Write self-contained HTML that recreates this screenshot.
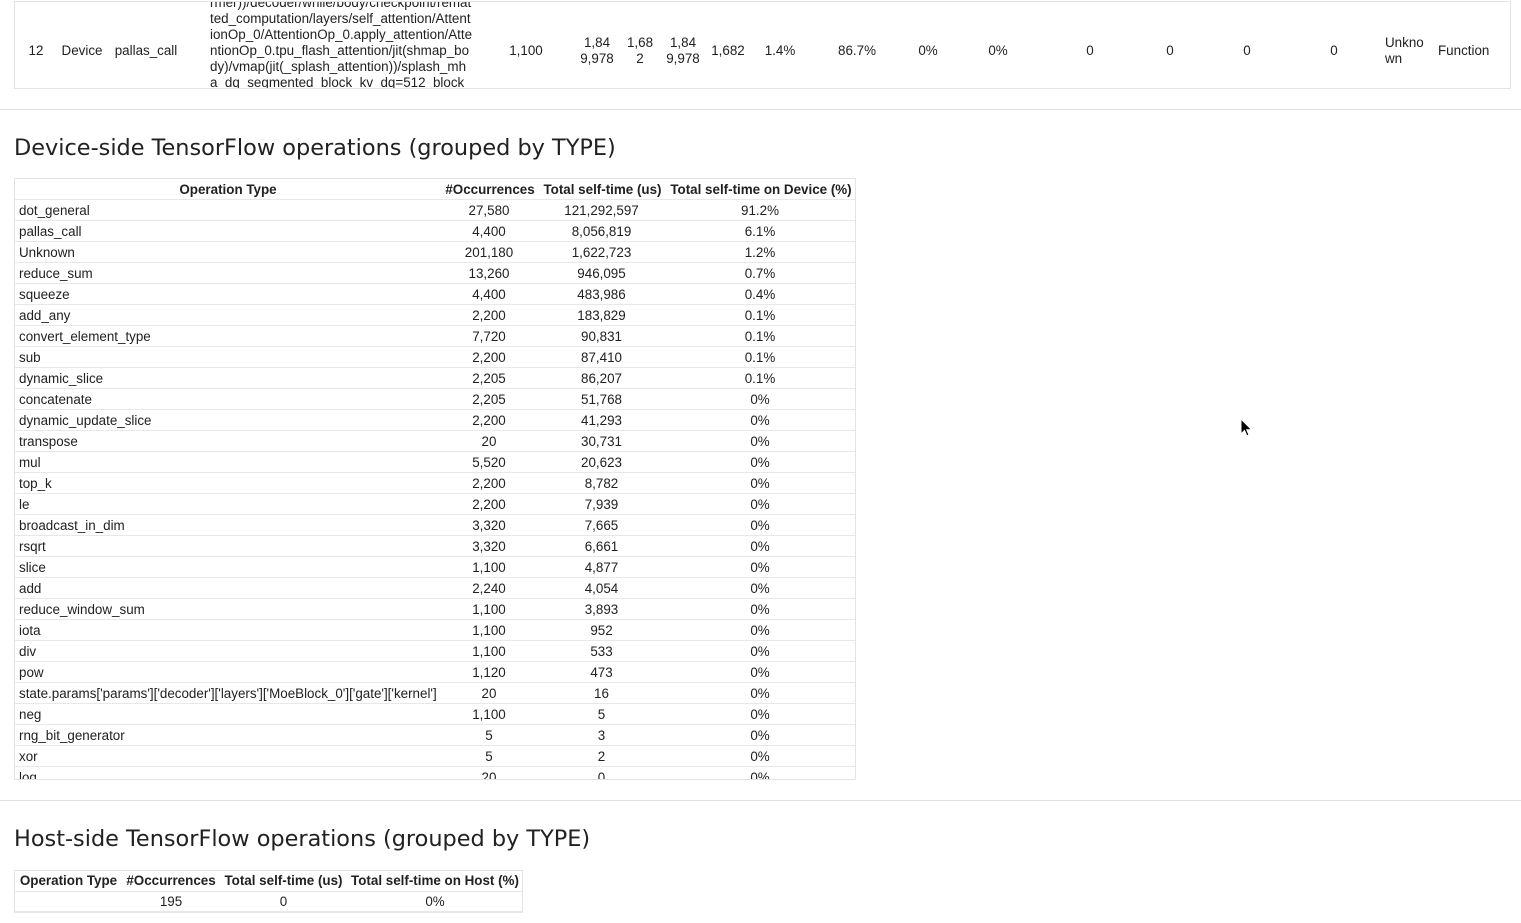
<!DOCTYPE html>
<html>
<head>
<meta charset="utf-8">
<style>
html,body{margin:0;padding:0;background:#fff;}
body{width:1521px;height:923px;position:relative;overflow:hidden;font-family:"Liberation Sans",Arial,sans-serif;font-size:13.4px;color:#212121;}
.abs{position:absolute;}
.c{position:absolute;text-align:center;white-space:nowrap;}
.box{position:absolute;border:1px solid #e3e3e3;box-sizing:border-box;overflow:hidden;background:#fff;}
.sep{position:absolute;left:0;width:1521px;height:1px;background:#e0e0e0;}
h2{position:absolute;margin:0;font-family:"DejaVu Sans",sans-serif;font-weight:normal;font-size:22.4px;color:#212121;white-space:nowrap;line-height:30px;}
.row{position:absolute;left:0;height:20px;line-height:20px;border-bottom:1px solid #e8e8e8;width:100%;}
.row div{position:absolute;top:0;white-space:nowrap;}
.dev .row div{top:1px;}
.hd{font-weight:bold;}
.long{position:absolute;left:195px;top:0;width:275px;height:86px;overflow:hidden;}
.long div{position:absolute;left:0;white-space:nowrap;line-height:16px;}
</style>
</head>
<body>

<!-- Top table row -->
<div class="box" style="left:14px;top:1px;width:1497px;height:88px;">
  <div class="c" style="left:1px;width:40px;top:41px;line-height:16px;">12</div>
  <div class="c" style="left:37px;width:60px;top:41px;line-height:16px;">Device</div>
  <div class="c" style="left:91px;width:80px;top:41px;line-height:16px;">pallas_call</div>
  <div class="long">
    <div style="top:-7px;">rmer))/decoder/while/body/checkpoint/remat</div>
    <div style="top:9px;">ted_computation/layers/self_attention/Attent</div>
    <div style="top:25px;">ionOp_0/AttentionOp_0.apply_attention/Atte</div>
    <div style="top:41px;">ntionOp_0.tpu_flash_attention/jit(shmap_bo</div>
    <div style="top:57px;">dy)/vmap(jit(_splash_attention))/splash_mh</div>
    <div style="top:73px;">a_dq_segmented_block_kv_dq=512_block</div>
  </div>
  <div class="c" style="left:471px;width:80px;top:41px;line-height:16px;">1,100</div>
  <div class="c" style="left:552px;width:60px;top:33px;line-height:16px;">1,84<br>9,978</div>
  <div class="c" style="left:605px;width:40px;top:33px;line-height:16px;">1,68<br>2</div>
  <div class="c" style="left:638px;width:60px;top:33px;line-height:16px;">1,84<br>9,978</div>
  <div class="c" style="left:683px;width:60px;top:41px;line-height:16px;">1,682</div>
  <div class="c" style="left:735px;width:60px;top:41px;line-height:16px;">1.4%</div>
  <div class="c" style="left:812px;width:60px;top:41px;line-height:16px;">86.7%</div>
  <div class="c" style="left:883px;width:60px;top:41px;line-height:16px;">0%</div>
  <div class="c" style="left:953px;width:60px;top:41px;line-height:16px;">0%</div>
  <div class="c" style="left:1045px;width:60px;top:41px;line-height:16px;">0</div>
  <div class="c" style="left:1125px;width:60px;top:41px;line-height:16px;">0</div>
  <div class="c" style="left:1202px;width:60px;top:41px;line-height:16px;">0</div>
  <div class="c" style="left:1289px;width:60px;top:41px;line-height:16px;">0</div>
  <div class="abs" style="left:1370px;top:33px;line-height:16px;white-space:nowrap;">Unkno<br>wn</div>
  <div class="abs" style="left:1423px;top:41px;line-height:16px;white-space:nowrap;">Function</div>
</div>

<div class="sep" style="top:109px;"></div>

<h2 style="left:14px;top:133px;">Device-side TensorFlow operations (grouped by TYPE)</h2>

<!-- Device table -->
<div class="box dev" style="left:14px;top:178px;width:842px;height:602px;">
  <div class="row hd" style="top:0;">
    <div style="left:0;width:426px;text-align:center;">Operation Type</div>
    <div style="left:426px;width:98px;text-align:center;">#Occurrences</div>
    <div style="left:524px;width:127px;text-align:center;">Total self-time (us)</div>
    <div style="left:651px;width:190px;text-align:center;">Total self-time on Device (%)</div>
  </div>
</div>

<div class="sep" style="top:800px;"></div>

<h2 style="left:14px;top:824px;">Host-side TensorFlow operations (grouped by TYPE)</h2>

<!-- Host table -->
<div class="box" style="left:14px;top:870px;width:509px;height:43px;border-bottom:2px solid #e8e8e8;">
  <div class="row hd" style="top:0;">
    <div style="left:0;width:107px;text-align:center;">Operation Type</div>
    <div style="left:107px;width:98px;text-align:center;">#Occurrences</div>
    <div style="left:205px;width:127px;text-align:center;">Total self-time (us)</div>
    <div style="left:332px;width:176px;text-align:center;">Total self-time on Host (%)</div>
  </div>
  <div class="row" style="top:21px;border-bottom:none;">
    <div style="left:107px;width:98px;text-align:center;">195</div>
    <div style="left:205px;width:127px;text-align:center;">0</div>
    <div style="left:332px;width:176px;text-align:center;">0%</div>
  </div>
</div>

<!-- Device rows -->
<div class="abs dev" style="left:15px;top:179px;width:840px;height:600px;overflow:hidden;">
  <div class="row" style="top:21px;"><div style="left:4px;">dot_general</div><div style="left:425px;width:98px;text-align:center;">27,580</div><div style="left:523px;width:127px;text-align:center;">121,292,597</div><div style="left:650px;width:190px;text-align:center;">91.2%</div></div>
  <div class="row" style="top:42px;"><div style="left:4px;">pallas_call</div><div style="left:425px;width:98px;text-align:center;">4,400</div><div style="left:523px;width:127px;text-align:center;">8,056,819</div><div style="left:650px;width:190px;text-align:center;">6.1%</div></div>
  <div class="row" style="top:63px;"><div style="left:4px;">Unknown</div><div style="left:425px;width:98px;text-align:center;">201,180</div><div style="left:523px;width:127px;text-align:center;">1,622,723</div><div style="left:650px;width:190px;text-align:center;">1.2%</div></div>
  <div class="row" style="top:84px;"><div style="left:4px;">reduce_sum</div><div style="left:425px;width:98px;text-align:center;">13,260</div><div style="left:523px;width:127px;text-align:center;">946,095</div><div style="left:650px;width:190px;text-align:center;">0.7%</div></div>
  <div class="row" style="top:105px;"><div style="left:4px;">squeeze</div><div style="left:425px;width:98px;text-align:center;">4,400</div><div style="left:523px;width:127px;text-align:center;">483,986</div><div style="left:650px;width:190px;text-align:center;">0.4%</div></div>
  <div class="row" style="top:126px;"><div style="left:4px;">add_any</div><div style="left:425px;width:98px;text-align:center;">2,200</div><div style="left:523px;width:127px;text-align:center;">183,829</div><div style="left:650px;width:190px;text-align:center;">0.1%</div></div>
  <div class="row" style="top:147px;"><div style="left:4px;">convert_element_type</div><div style="left:425px;width:98px;text-align:center;">7,720</div><div style="left:523px;width:127px;text-align:center;">90,831</div><div style="left:650px;width:190px;text-align:center;">0.1%</div></div>
  <div class="row" style="top:168px;"><div style="left:4px;">sub</div><div style="left:425px;width:98px;text-align:center;">2,200</div><div style="left:523px;width:127px;text-align:center;">87,410</div><div style="left:650px;width:190px;text-align:center;">0.1%</div></div>
  <div class="row" style="top:189px;"><div style="left:4px;">dynamic_slice</div><div style="left:425px;width:98px;text-align:center;">2,205</div><div style="left:523px;width:127px;text-align:center;">86,207</div><div style="left:650px;width:190px;text-align:center;">0.1%</div></div>
  <div class="row" style="top:210px;"><div style="left:4px;">concatenate</div><div style="left:425px;width:98px;text-align:center;">2,205</div><div style="left:523px;width:127px;text-align:center;">51,768</div><div style="left:650px;width:190px;text-align:center;">0%</div></div>
  <div class="row" style="top:231px;"><div style="left:4px;">dynamic_update_slice</div><div style="left:425px;width:98px;text-align:center;">2,200</div><div style="left:523px;width:127px;text-align:center;">41,293</div><div style="left:650px;width:190px;text-align:center;">0%</div></div>
  <div class="row" style="top:252px;"><div style="left:4px;">transpose</div><div style="left:425px;width:98px;text-align:center;">20</div><div style="left:523px;width:127px;text-align:center;">30,731</div><div style="left:650px;width:190px;text-align:center;">0%</div></div>
  <div class="row" style="top:273px;"><div style="left:4px;">mul</div><div style="left:425px;width:98px;text-align:center;">5,520</div><div style="left:523px;width:127px;text-align:center;">20,623</div><div style="left:650px;width:190px;text-align:center;">0%</div></div>
  <div class="row" style="top:294px;"><div style="left:4px;">top_k</div><div style="left:425px;width:98px;text-align:center;">2,200</div><div style="left:523px;width:127px;text-align:center;">8,782</div><div style="left:650px;width:190px;text-align:center;">0%</div></div>
  <div class="row" style="top:315px;"><div style="left:4px;">le</div><div style="left:425px;width:98px;text-align:center;">2,200</div><div style="left:523px;width:127px;text-align:center;">7,939</div><div style="left:650px;width:190px;text-align:center;">0%</div></div>
  <div class="row" style="top:336px;"><div style="left:4px;">broadcast_in_dim</div><div style="left:425px;width:98px;text-align:center;">3,320</div><div style="left:523px;width:127px;text-align:center;">7,665</div><div style="left:650px;width:190px;text-align:center;">0%</div></div>
  <div class="row" style="top:357px;"><div style="left:4px;">rsqrt</div><div style="left:425px;width:98px;text-align:center;">3,320</div><div style="left:523px;width:127px;text-align:center;">6,661</div><div style="left:650px;width:190px;text-align:center;">0%</div></div>
  <div class="row" style="top:378px;"><div style="left:4px;">slice</div><div style="left:425px;width:98px;text-align:center;">1,100</div><div style="left:523px;width:127px;text-align:center;">4,877</div><div style="left:650px;width:190px;text-align:center;">0%</div></div>
  <div class="row" style="top:399px;"><div style="left:4px;">add</div><div style="left:425px;width:98px;text-align:center;">2,240</div><div style="left:523px;width:127px;text-align:center;">4,054</div><div style="left:650px;width:190px;text-align:center;">0%</div></div>
  <div class="row" style="top:420px;"><div style="left:4px;">reduce_window_sum</div><div style="left:425px;width:98px;text-align:center;">1,100</div><div style="left:523px;width:127px;text-align:center;">3,893</div><div style="left:650px;width:190px;text-align:center;">0%</div></div>
  <div class="row" style="top:441px;"><div style="left:4px;">iota</div><div style="left:425px;width:98px;text-align:center;">1,100</div><div style="left:523px;width:127px;text-align:center;">952</div><div style="left:650px;width:190px;text-align:center;">0%</div></div>
  <div class="row" style="top:462px;"><div style="left:4px;">div</div><div style="left:425px;width:98px;text-align:center;">1,100</div><div style="left:523px;width:127px;text-align:center;">533</div><div style="left:650px;width:190px;text-align:center;">0%</div></div>
  <div class="row" style="top:483px;"><div style="left:4px;">pow</div><div style="left:425px;width:98px;text-align:center;">1,120</div><div style="left:523px;width:127px;text-align:center;">473</div><div style="left:650px;width:190px;text-align:center;">0%</div></div>
  <div class="row" style="top:504px;"><div style="left:4px;">state.params['params']['decoder']['layers']['MoeBlock_0']['gate']['kernel']</div><div style="left:425px;width:98px;text-align:center;">20</div><div style="left:523px;width:127px;text-align:center;">16</div><div style="left:650px;width:190px;text-align:center;">0%</div></div>
  <div class="row" style="top:525px;"><div style="left:4px;">neg</div><div style="left:425px;width:98px;text-align:center;">1,100</div><div style="left:523px;width:127px;text-align:center;">5</div><div style="left:650px;width:190px;text-align:center;">0%</div></div>
  <div class="row" style="top:546px;"><div style="left:4px;">rng_bit_generator</div><div style="left:425px;width:98px;text-align:center;">5</div><div style="left:523px;width:127px;text-align:center;">3</div><div style="left:650px;width:190px;text-align:center;">0%</div></div>
  <div class="row" style="top:567px;"><div style="left:4px;">xor</div><div style="left:425px;width:98px;text-align:center;">5</div><div style="left:523px;width:127px;text-align:center;">2</div><div style="left:650px;width:190px;text-align:center;">0%</div></div>
  <div class="row" style="top:588px;"><div style="left:4px;">log</div><div style="left:425px;width:98px;text-align:center;">20</div><div style="left:523px;width:127px;text-align:center;">0</div><div style="left:650px;width:190px;text-align:center;">0%</div></div>
</div>

<!-- mouse cursor -->
<svg class="abs" style="left:1238px;top:418px;" width="18" height="22" viewBox="0 0 18 22">
  <path d="M3 1 L3 16 L6.5 12.5 L9 18 L11 17 L8.7 11.7 L13.5 11.7 Z" fill="#000" stroke="#fff" stroke-width="1"/>
</svg>

</body>
</html>
